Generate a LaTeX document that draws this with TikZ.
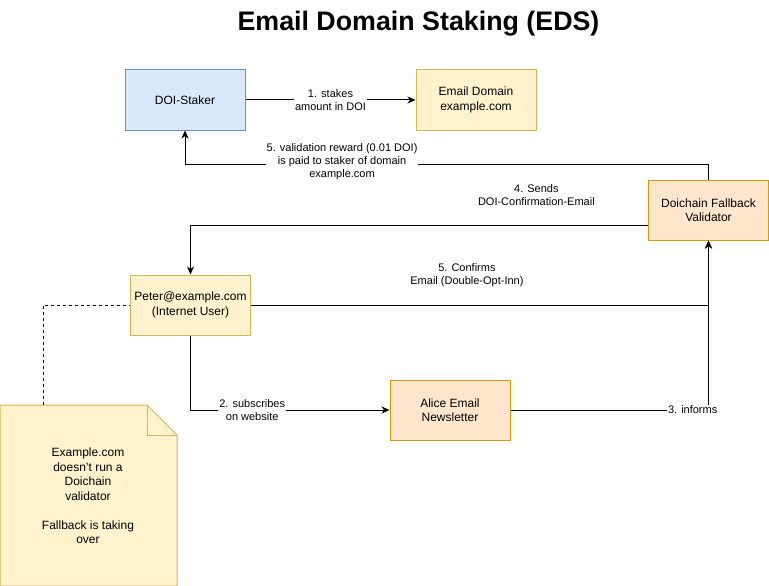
\documentclass[tikz,border=0pt]{standalone}
\usepackage{fontspec}
\setmainfont{Liberation Sans}
\usetikzlibrary{arrows.meta}
\definecolor{bluefill}{HTML}{DAE8FC}
\definecolor{bluedraw}{HTML}{6C8EBF}
\definecolor{yelfill}{HTML}{FFF2CC}
\definecolor{yeldraw}{HTML}{D6B656}
\definecolor{orafill}{HTML}{FFE6CC}
\definecolor{oradraw}{HTML}{D79B00}
\tikzset{
  box/.style={draw, line width=1pt, minimum width=120pt, minimum height=60pt,
    align=center, inner sep=2pt, font=\fontsize{12}{14.5}\selectfont},
  bluebox/.style={box, fill=bluefill, draw=bluedraw},
  yelbox/.style={box, fill=yelfill, draw=yeldraw},
  orabox/.style={box, fill=orafill, draw=oradraw},
  conn/.style={line width=1pt, -{Stealth[length=8pt,width=7pt,inset=2.5pt]}},
  lbl/.style={fill=white, inner sep=1pt, align=center, font=\fontsize{11}{13}\selectfont},
  lblfree/.style={inner sep=1pt, align=center, font=\fontsize{11}{13}\selectfont},
}
\begin{document}
\begin{tikzpicture}[x=1pt,y=-1pt]
\useasboundingbox[fill=white] (0,0) rectangle (769,586);

\node[font=\bfseries\fontsize{26.8}{30}\selectfont, anchor=base, inner sep=0pt] (title) at (418.5,30.7) {Email Domain Staking (EDS)};

\node[bluebox] (staker) at (185,100) {DOI-Staker};
\node[yelbox] (domain) at (476,100) {Email Domain\\example.com};
\node[orabox] (validator) at (708.5,210) {Doichain Fallback\\Validator};
\node[yelbox] (peter) at (190.5,305) {Peter@example.com\\(Internet User)};
\node[orabox] (alice) at (450,410) {Alice Email\\Newsletter};

% note
\draw[line width=1pt, draw=yeldraw, fill=yelfill]
  (0,405) -- (147,405) -- (177,435) -- (177,586) -- (0,586) -- cycle;
\draw[line width=1pt, draw=yeldraw] (147,405) -- (147,435) -- (177,435);
\node[align=center, font=\fontsize{12}{14.5}\selectfont] (note) at (88,496)
  {Example.com\\doesn't run a\\Doichain\\validator\\[14.5pt]Fallback is taking\\over};
\coordinate (notetop) at (43,405);

% connectors
\draw[conn] (staker.east) -- node[lbl] {1. stakes\\amount in DOI} (domain.west);
\draw[conn] (validator.north) -- ++(0,-15)
  -| node[lbl, pos=0.35, yshift=3pt] {5. validation reward (0.01 DOI)\\is paid to staker of domain\\example.com} (staker.south);
\draw[conn] ([yshift=-15pt]validator.west)
  -| node[lblfree, pos=0.122, yshift=30pt] {4. Sends\\DOI-Confirmation-Email} (peter.north);
\draw[conn] (peter.east)
  -| node[lblfree, pos=0.236, yshift=30pt] {5. Confirms\\Email (Double-Opt-Inn)} (validator.south);
\draw[conn] (peter.south)
  |- node[lbl, pos=0.655] {2. subscribes\\on website} (alice.west);
\draw[conn] (alice.east)
  -| node[lbl, pos=0.46] {3. informs} (validator.south);
\draw[line width=0.8pt, dashed] (notetop) |- (peter.west);
\end{tikzpicture}
\end{document}
